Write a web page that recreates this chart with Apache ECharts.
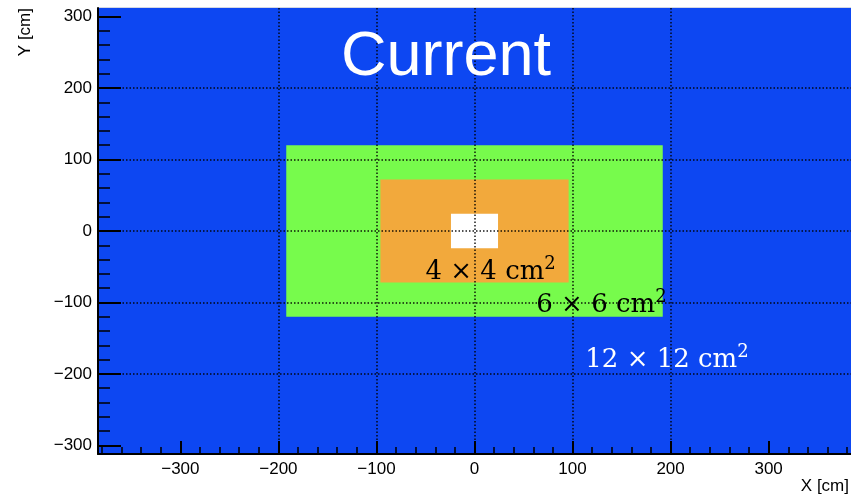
<!DOCTYPE html>
<html>
<head>
<meta charset="utf-8">
<script src="https://cdn.jsdelivr.net/npm/echarts@6/dist/echarts.min.js"></script>
<style>
  html, body { margin: 0; padding: 0; background: #ffffff; }
  #chart { width: 851px; height: 495px; }
</style>
</head>
<body>
<div id="chart"></div>
<script>
// Calorimeter cell-size zones, nested rectangles centred on the beam axis (cm)
const zoneNames   = ['outer', 'middle', 'inner', 'beam hole'];
const zoneHalfX   = [384, 192, 96, 24];
const zoneHalfY   = [312, 120, 72, 24];
const zoneCellCm  = [12, 6, 4, null];

// Axis ticks (cm)
const xTickValues = [-300, -200, -100, 0, 100, 200, 300];
const yTickValues = [-300, -200, -100, 0, 100, 200, 300];

const zoneColors = ['#0d47f2', '#77fb4c', '#f2a93c', '#ffffff'];
const zoneLabelColors = ['#ffffff', '#000000', '#000000', null];
// where each zone's cell-size caption starts (left edge, baseline) in cm
const captionAnchor = [[113, -193.5], [63, -116], [-50, -71], null];

const chart = echarts.init(document.getElementById('chart'), null, { renderer: 'canvas' });

const zoneData = zoneNames.map((n, i) => [-zoneHalfX[i], zoneHalfX[i], -zoneHalfY[i], zoneHalfY[i]]);

const captionData = [];
zoneCellCm.forEach((c, i) => {
  if (c !== null) captionData.push({ value: [captionAnchor[i][0], captionAnchor[i][1]], size: c, color: zoneLabelColors[i] });
});

const minus = v => String(v).replace('-', '\u2212');

const tickFont = { fontFamily: 'Liberation Sans', fontSize: 17, color: '#000000' };
const gridLine = { show: true, showMinLine: false, showMaxLine: false,
  lineStyle: { color: 'rgba(0,0,0,0.9)', width: 1.5, type: [1.5, 2] } };

chart.setOption({
  animation: false,
  backgroundColor: '#ffffff',
  grid: { left: 98, top: 8, right: 0, bottom: 41, show: true, borderColor: '#a9b0c6', borderWidth: 1, backgroundColor: 'transparent' },
  xAxis: {
    type: 'value', min: -384, max: 384, splitNumber: 8, z: 5,
    axisLine: { show: true, onZero: false, lineStyle: { color: '#000', width: 2 } },
    axisTick: { show: true, inside: true, length: 13, customValues: xTickValues, lineStyle: { color: '#000', width: 2 } },
    minorTick: { show: true, splitNumber: 5, length: 7, lineStyle: { color: '#000', width: 1.5 } },
    axisLabel: { customValues: xTickValues, margin: 7, formatter: minus, ...tickFont },
    splitLine: gridLine
  },
  yAxis: {
    type: 'value', min: -312, max: 312, splitNumber: 6, z: 5,
    axisLine: { show: true, onZero: false, lineStyle: { color: '#000', width: 2 } },
    axisTick: { show: true, inside: true, length: 23, customValues: yTickValues, lineStyle: { color: '#000', width: 2 } },
    minorTick: { show: true, splitNumber: 5, length: 12, lineStyle: { color: '#000', width: 1.5 } },
    axisLabel: { customValues: yTickValues, margin: 6, formatter: minus, ...tickFont },
    splitLine: gridLine
  },
  graphic: [
    { type: 'text', style: { text: 'Current', x: 446, y: 58, align: 'center', verticalAlign: 'middle',
      fontFamily: 'Liberation Sans', fontSize: 63, fill: '#ffffff' }, z: 10, silent: true },
    { type: 'text', style: { text: 'Y [cm]', x: 0, y: 0, align: 'right', verticalAlign: 'middle',
      fontFamily: 'Liberation Sans', fontSize: 17, fill: '#000' }, x: 25, y: 8, rotation: Math.PI / 2, z: 10 },
    { type: 'text', style: { text: 'X [cm]', x: 849, y: 486, align: 'right', verticalAlign: 'middle',
      fontFamily: 'Liberation Sans', fontSize: 17, fill: '#000' }, z: 10 }
  ],
  series: [
    {
      type: 'custom', name: 'zones', z: 1,
      encode: { x: [0, 1], y: [2, 3] },
      data: zoneData,
      renderItem: (params, api) => {
        const p0 = api.coord([api.value(0), api.value(3)]);
        const p1 = api.coord([api.value(1), api.value(2)]);
        return {
          type: 'rect',
          shape: { x: p0[0], y: p0[1], width: p1[0] - p0[0], height: p1[1] - p0[1] },
          style: { fill: zoneColors[params.dataIndex] }
        };
      }
    },
    {
      type: 'custom', name: 'cell size', z: 8,
      encode: { x: 0, y: 1 },
      data: captionData,
      renderItem: (params, api) => {
        const item = captionData[params.dataIndex];
        const p = api.coord([api.value(0), api.value(1)]);
        return {
          type: 'text',
          x: p[0], y: p[1] - 9,
          style: {
            text: '{b|' + item.size + ' \u00d7 ' + item.size + ' cm}{s|2}',
            align: 'left', verticalAlign: 'middle',
            rich: {
              b: { fontFamily: 'DejaVu Serif', fontSize: 26, lineHeight: 34, fill: item.color },
              s: { fontFamily: 'DejaVu Serif', fontSize: 18, lineHeight: 18, verticalAlign: 'top', fill: item.color }
            }
          }
        };
      }
    }
  ]
});
</script>
</body>
</html>
